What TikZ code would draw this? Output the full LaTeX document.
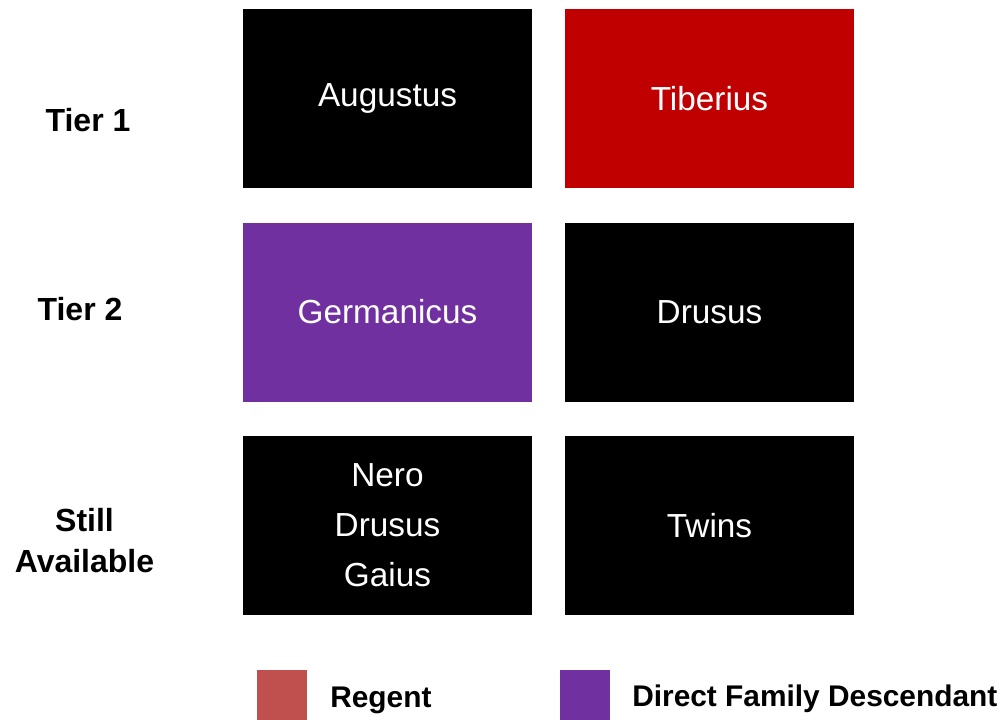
\documentclass[tikz,border=0pt]{standalone}
\usepackage{fontspec}
\setmainfont{Liberation Sans}
\definecolor{regentred}{HTML}{C00000}
\definecolor{descpurple}{HTML}{7030A0}
\definecolor{keyred}{HTML}{C0504D}
\begin{document}
\begin{tikzpicture}[x=0.75pt, y=-0.75pt, line join=round, line cap=round,
    box/.style={fill=black, text=white, inner sep=0pt, minimum width=216.75pt, minimum height=134.25pt, align=center, font=\fontsize{25}{37.5}\selectfont},
    tier/.style={align=center, inner sep=0pt, font=\fontsize{24}{30.75}\selectfont\bfseries},
    keytext/.style={anchor=west, inner sep=0pt, font=\fontsize{22.4}{26}\selectfont\bfseries},
    keybox/.style={inner sep=0pt, minimum size=37.5pt}]
    \useasboundingbox (0,0) rectangle (1008,719);
    \def\cola{387.5}\def\colb{709.5}
    \node[tier] (tier1) at (88,120) {Tier 1};
    \node[tier] (tier2) at (80,309) {Tier 2};
    \node[tier] (still) at (84.5,541) {Still\\Available};
    \node[box] (augustus) at (\cola,98.5) {Augustus};
    \node[box, fill=regentred] (tiberius) at (\colb,98.5) {Tiberius};
    \node[box, fill=descpurple] (germanicus) at (\cola,312) {Germanicus};
    \node[box] (drusus) at (\colb,312) {Drusus};
    \node[box] (sons) at (\cola,525.5) {Nero\\Drusus\\Gaius};
    \node[box] (twins) at (\colb,525.5) {Twins};
    % legend
    \node[keybox, fill=keyred] (keyregent) at (281.5,694.5) {};
    \node[keytext] (regent) at (330,700) {Regent};
    \node[keybox, fill=descpurple] (keydesc) at (584.5,694.5) {};
    \node[keytext] (desc) at (632,699) {Direct Family Descendant};
\end{tikzpicture}
\end{document}
